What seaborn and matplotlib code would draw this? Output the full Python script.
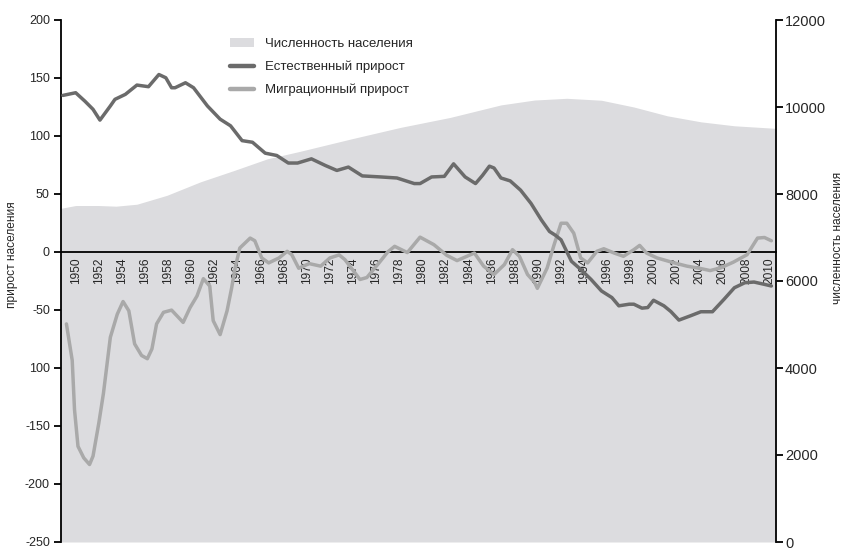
import numpy as np
import pandas as pd
import matplotlib
matplotlib.use("Agg")
import matplotlib.pyplot as plt
import seaborn as sns
from matplotlib.patches import Patch
from matplotlib.lines import Line2D

# ---------------- data ----------------
nat_years = [1948.9, 1950.0, 1950.8, 1951.5, 1952.1, 1953.0, 1953.4, 1954.3, 1955.3, 1956.3,
             1957.2, 1957.8, 1958.3, 1958.6, 1959.5, 1960.2, 1961.4, 1962.5, 1963.4, 1964.4,
             1965.3, 1966.4, 1967.4, 1968.4, 1969.2, 1970.4, 1971.6, 1972.6, 1973.6, 1974.8,
             1976.4, 1977.8, 1979.3, 1979.8, 1980.8, 1981.9, 1982.7, 1983.7, 1984.6, 1985.2,
             1985.8, 1986.2, 1986.8, 1987.6, 1988.5, 1989.4, 1990.3, 1991.0, 1991.5, 1992.0,
             1992.9, 1993.7, 1994.6, 1995.5, 1996.4, 1997.0, 1997.9, 1998.3, 1999.0, 1999.5,
             2000.0, 2000.9, 2001.5, 2002.2, 2003.2, 2004.1, 2005.1, 2006.1, 2007.0, 2007.9,
             2008.7, 2009.6, 2010.2]
nat_values = [135.0, 137.3, 130.0, 123.0, 113.7, 125.9, 131.6, 135.9, 143.9, 142.5,
              153.0, 150.2, 141.6, 141.6, 145.9, 141.6, 125.9, 114.5, 108.8, 96.0,
              94.6, 85.2, 83.2, 76.7, 76.7, 80.3, 74.6, 70.3, 73.2, 65.6,
              64.7, 63.8, 59.0, 59.0, 64.7, 65.2, 76.0, 64.7, 59.0, 66.0,
              74.0, 72.4, 63.8, 61.3, 53.3, 41.9, 27.6, 17.7, 14.5, 10.5,
              -8.0, -15.0, -23.7, -33.6, -39.3, -46.4, -45.0, -45.0, -48.4, -47.9,
              -41.6, -46.4, -51.3, -58.7, -55.0, -51.5, -51.5, -40.8, -30.8, -26.5,
              -25.9, -27.9, -29.3]

mig_years = [1949.2, 1949.7, 1949.9, 1950.2, 1950.7, 1951.2, 1951.5, 1952.0, 1952.4, 1953.0,
             1953.6, 1954.1, 1954.6, 1955.1, 1955.7, 1956.2, 1956.6, 1957.0, 1957.6, 1958.3,
             1959.3, 1959.9, 1960.5, 1961.05, 1961.6, 1961.9, 1962.5, 1963.1, 1963.5, 1963.8,
             1964.2, 1965.1, 1965.5, 1966.1, 1966.7, 1967.6, 1968.3, 1968.7, 1969.3, 1970.2,
             1971.2, 1972.0, 1972.8, 1973.3, 1974.6, 1975.2, 1976.2, 1977.0, 1977.6, 1978.7,
             1979.8, 1981.0, 1982.1, 1983.0, 1984.5, 1985.3, 1986.2, 1987.1, 1987.8, 1988.4,
             1989.1, 1989.7, 1989.95, 1990.8, 1991.4, 1992.0, 1992.5, 1993.1, 1993.7, 1994.3,
             1995.1, 1995.7, 1996.6, 1997.4, 1998.3, 1998.8, 1999.4, 2000.3, 2001.8, 2002.9,
             2004.1, 2004.9, 2005.8, 2006.9, 2008.1, 2009.0, 2009.6, 2010.2]
mig_values = [-62.0, -93.4, -136.0, -167.5, -177.5, -183.2, -176.0, -147.6, -122.0, -73.5,
              -53.6, -42.7, -50.7, -79.2, -89.2, -92.0, -83.5, -62.0, -52.0, -50.1,
              -60.7, -47.9, -37.9, -23.0, -29.3, -59.2, -71.2, -50.7, -30.8, -13.7,
              3.4, 12.0, 9.7, -5.1, -9.4, -5.1, 0.6, -2.3, -14.0, -10.0,
              -12.2, -5.1, -2.5, -6.6, -23.7, -22.0, -10.0, 0.0, 4.9, -0.5,
              12.8, 6.3, -2.8, -7.4, -0.9, -12.2, -19.4, -10.8, 2.0, -3.7,
              -19.4, -26.0, -31.3, -13.7, 6.3, 24.8, 24.8, 16.2, -5.1, -9.4,
              0.6, 2.8, -0.9, -3.7, 2.0, 5.7, -0.9, -5.1, -9.4, -12.2,
              -14.3, -16.0, -13.7, -8.8, -2.3, 12.0, 12.5, 9.7]

pop_years = [1948.7, 1950.0, 1952.0, 1953.5, 1955.3, 1957.9, 1960.8, 1963.7, 1966.6, 1969.4,
             1973.8, 1978.1, 1982.4, 1986.8, 1989.7, 1992.5, 1995.5, 1998.3, 2001.2, 2004.1,
             2007.0, 2010.6]
pop_values = [7670, 7735, 7735, 7720, 7765, 7970, 8280, 8540, 8810, 8980,
              9264, 9531, 9760, 10048, 10160, 10200, 10155, 10000, 9797, 9659,
              9568, 9509]

x_label_years = list(range(1950, 2011, 2))
left_tick_values = [200, 150, 100, 50, 0, -50, -100, -150, -200, -250]
left_tick_labels = ["200", "150", "100", "50", "0", "-50", "100", "-150", "-200", "-250"]
right_tick_values = [0, 2000, 4000, 6000, 8000, 10000, 12000]

legend_labels = ["Численность населения", "Естественный прирост", "Миграционный прирост"]
left_axis_title = "прирост населения"
right_axis_title = "численность населения"

# ---------------- styling ----------------
sns.set_theme(style="white")
plt.rcParams["font.family"] = ["Liberation Sans", "DejaVu Sans"]

AREA = "#dcdcdf"
DARK = "#6b6b6b"
LIGHT = "#a9a9a9"

fig = plt.figure(figsize=(8.46, 5.51), dpi=100)
W, H = 846, 551
ax_l, ax_r, ax_t, ax_b = 61, 776, 20, 542
ax = fig.add_axes([ax_l / W, 1 - ax_b / H, (ax_r - ax_l) / W, (ax_b - ax_t) / H])
ax2 = ax.twinx()

x_min, x_max = 1948.73, 2010.6

# population area on the right axis
pop_df = pd.DataFrame({"year": pop_years, "pop": pop_values})
ax2.fill_between(pop_df["year"], 0, pop_df["pop"], color=AREA, lw=0, zorder=1)
ax2.set_ylim(0, 12000)
ax2.set_yticks(right_tick_values)
ax2.set_yticklabels([str(v) for v in right_tick_values], fontsize=10.5)

# lines on the left axis
nat_df = pd.DataFrame({"year": nat_years, "value": nat_values})
mig_df = pd.DataFrame({"year": mig_years, "value": mig_values})
sns.lineplot(data=mig_df, x="year", y="value", ax=ax, color=LIGHT, lw=2.5, zorder=3,
             solid_joinstyle="round", solid_capstyle="round")
sns.lineplot(data=nat_df, x="year", y="value", ax=ax, color=DARK, lw=2.5, zorder=4,
             solid_joinstyle="round", solid_capstyle="round")

ax.set_zorder(ax2.get_zorder() + 1)
ax.patch.set_visible(False)

ax.set_xlim(x_min, x_max)
ax2.set_xlim(x_min, x_max)
ax.set_ylim(-250, 200)
ax.set_yticks(left_tick_values)
ax.set_yticklabels(left_tick_labels, fontsize=9)
ax.set_xlabel("")
ax.set_ylabel("")

# x axis on the zero line
ax.spines["bottom"].set_position(("data", 0))
ax.spines["top"].set_visible(False)
ax.spines["right"].set_visible(False)
for s in ["left", "bottom"]:
    ax.spines[s].set_color("black")
    ax.spines[s].set_linewidth(1.3)
for s in ["left", "top", "bottom"]:
    ax2.spines[s].set_visible(False)
ax2.spines["right"].set_color("black")
ax2.spines["right"].set_linewidth(1.3)

ax.set_xticks(x_label_years)
ax.set_xticklabels([str(y) for y in x_label_years], rotation=90, fontsize=8.6)
ax.tick_params(axis="x", which="major", length=0, pad=4)
tick_marks = 1951.73 + 3.055 * np.arange(20)
ax.set_xticks(tick_marks, minor=True)
ax.tick_params(axis="x", which="minor", length=4.5, width=1.3, direction="out", color="black")
ax.tick_params(axis="y", length=5, width=1.3, direction="out", color="black", pad=3, left=True)
ax2.tick_params(axis="y", length=5, width=1.3, direction="out", color="black", pad=1.5, right=True)
ax.grid(False)
ax2.grid(False)

# axis titles
fig.text(12 / W, 1 - 255 / H, left_axis_title, rotation=90, ha="center", va="center", fontsize=8.6)
fig.text(838 / W, 1 - 238 / H, right_axis_title, rotation=90, ha="center", va="center", fontsize=8.6)

# legend
handles = [Patch(facecolor=AREA, edgecolor="none"),
           Line2D([0], [0], color=DARK, lw=3.2),
           Line2D([0], [0], color=LIGHT, lw=3.2)]
fig.legend(handles, legend_labels, loc="upper left",
           bbox_to_anchor=(230 / W, 1 - 38 / H), bbox_transform=fig.transFigure,
           frameon=False, fontsize=9.5, handlelength=1.8, handletextpad=0.85,
           labelspacing=0.8, borderpad=0, borderaxespad=0)

fig.savefig("out.png", dpi=100)
